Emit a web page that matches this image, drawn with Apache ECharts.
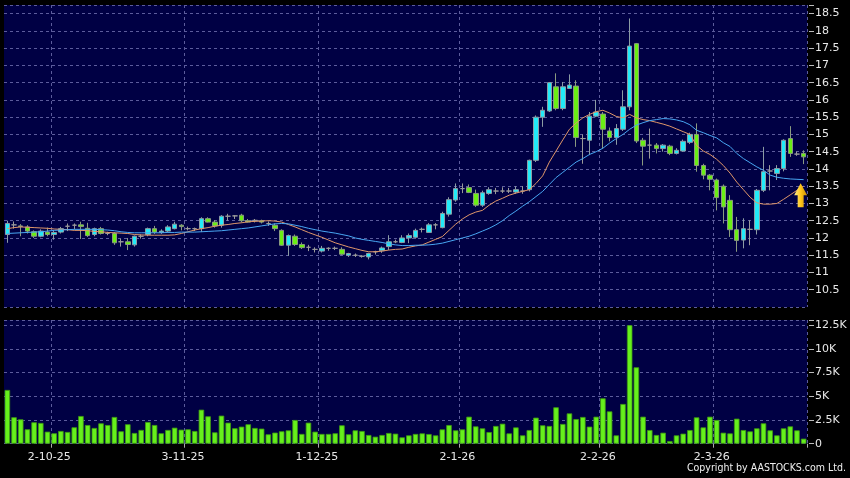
<!DOCTYPE html>
<html><head><meta charset="utf-8">
<script src="https://cdn.jsdelivr.net/npm/echarts@6/dist/echarts.min.js"></script>
<style>html,body{margin:0;padding:0;background:#000}#c{width:850px;height:478px}</style>
</head><body><div id="c"></div>
<script>
const dates = [
 '22-9-25','23-9-25','24-9-25','25-9-25','26-9-25','29-9-25','30-9-25',
 '2-10-25','3-10-25','6-10-25','8-10-25','9-10-25','10-10-25','13-10-25','14-10-25','15-10-25','16-10-25','17-10-25','20-10-25','21-10-25','22-10-25','23-10-25','24-10-25','27-10-25','28-10-25','30-10-25','31-10-25',
 '3-11-25','4-11-25','5-11-25','6-11-25','7-11-25','10-11-25','11-11-25','12-11-25','13-11-25','14-11-25','17-11-25','18-11-25','19-11-25','20-11-25','21-11-25','24-11-25','25-11-25','26-11-25','27-11-25','28-11-25',
 '1-12-25','2-12-25','3-12-25','4-12-25','5-12-25','8-12-25','9-12-25','10-12-25','11-12-25','12-12-25','15-12-25','16-12-25','17-12-25','18-12-25','19-12-25','22-12-25','23-12-25','24-12-25','29-12-25','30-12-25','31-12-25',
 '2-1-26','5-1-26','6-1-26','7-1-26','8-1-26','9-1-26','12-1-26','13-1-26','14-1-26','15-1-26','16-1-26','19-1-26','20-1-26','21-1-26','22-1-26','23-1-26','26-1-26','27-1-26','28-1-26','29-1-26','30-1-26',
 '2-2-26','3-2-26','4-2-26','5-2-26','6-2-26','9-2-26','10-2-26','11-2-26','12-2-26','13-2-26','16-2-26','20-2-26','23-2-26','24-2-26','25-2-26','26-2-26','27-2-26',
 '2-3-26','3-3-26','4-3-26','5-3-26','6-3-26','9-3-26','10-3-26','11-3-26','12-3-26','13-3-26','16-3-26','17-3-26','18-3-26','19-3-26'
];
const opens = [
 12.10,12.38,12.35,12.32,12.18,12.05,12.17,12.10,12.17,12.34,
 12.37,12.38,12.28,12.10,12.27,12.13,12.13,11.89,11.89,11.80,
 12.05,12.10,12.27,12.16,12.20,12.27,12.37,12.27,12.27,12.27,
 12.56,12.46,12.37,12.63,12.64,12.66,12.50,12.51,12.50,12.42,
 12.37,12.22,11.79,12.05,11.81,11.73,11.67,11.62,11.70,11.70,
 11.67,11.50,11.50,11.47,11.45,11.60,11.63,11.75,11.89,11.87,
 12.00,12.02,12.25,12.16,12.38,12.30,12.69,13.10,13.43,13.46,
 13.29,12.95,13.29,13.36,13.36,13.36,13.33,13.36,13.40,14.25,
 15.50,15.68,16.38,15.75,16.33,16.40,14.88,14.83,15.53,15.59,
 15.10,14.91,15.15,15.80,17.63,14.83,14.69,14.69,14.59,14.66,
 14.45,14.52,14.77,15.00,14.10,13.82,13.68,13.50,13.09,12.24,
 11.94,12.25,12.24,13.38,13.94,13.87,14.01,14.88,14.43,14.45
];
const closes = [
 12.42,12.38,12.33,12.20,12.05,12.20,12.10,12.16,12.27,12.34,
 12.37,12.33,12.07,12.27,12.13,12.13,11.86,11.89,11.81,12.05,
 12.05,12.27,12.17,12.20,12.32,12.40,12.33,12.27,12.27,12.56,
 12.46,12.35,12.63,12.63,12.64,12.50,12.46,12.51,12.46,12.42,
 12.27,11.79,12.07,11.81,11.72,11.73,11.67,11.70,11.70,11.70,
 11.53,11.55,11.50,11.47,11.55,11.60,11.71,11.89,11.89,12.00,
 12.07,12.22,12.25,12.38,12.38,12.71,13.11,13.43,13.43,13.32,
 12.95,13.31,13.40,13.36,13.36,13.36,13.40,13.36,14.25,15.50,
 15.70,16.50,15.75,16.38,16.43,14.91,14.88,15.53,15.65,15.15,
 14.91,15.17,15.80,17.56,14.81,14.66,14.69,14.59,14.69,14.45,
 14.54,14.80,15.00,14.10,13.82,13.70,13.17,12.90,12.24,11.93,
 12.27,12.25,13.38,13.92,13.94,14.01,14.83,14.45,14.43,14.35
];
const lows = [
 11.86,12.27,12.05,12.13,12.00,12.02,12.05,11.95,12.13,12.20,
 12.25,11.97,12.03,12.05,12.10,12.08,11.80,11.75,11.65,11.75,
 11.98,12.05,12.12,12.12,12.17,12.25,12.22,12.22,12.20,12.17,
 12.45,12.30,12.30,12.50,12.55,12.45,12.45,12.45,12.42,12.35,
 12.20,11.77,11.48,11.77,11.68,11.62,11.58,11.58,11.63,11.65,
 11.50,11.45,11.45,11.43,11.38,11.52,11.57,11.65,11.85,11.85,
 11.85,11.98,12.16,12.16,12.25,12.28,12.62,13.05,13.30,13.30,
 12.90,12.90,13.25,13.27,13.30,13.30,13.28,13.28,13.35,14.20,
 15.22,15.65,15.70,15.70,16.33,14.64,14.15,14.40,15.50,14.59,
 14.80,14.70,15.10,15.70,14.75,14.10,14.30,14.45,14.50,14.40,
 14.42,14.50,14.72,13.92,13.70,13.38,12.80,12.42,12.03,11.60,
 11.70,11.79,12.10,13.33,13.38,13.68,13.93,14.35,14.38,14.14
];
const highs = [
 12.50,12.48,12.40,12.37,12.22,12.25,12.30,12.22,12.32,12.42,
 12.42,12.47,12.44,12.30,12.32,12.18,12.17,11.98,12.00,12.07,
 12.10,12.30,12.35,12.25,12.37,12.47,12.40,12.33,12.30,12.60,
 12.60,12.52,12.66,12.70,12.66,12.70,12.55,12.55,12.53,12.48,
 12.42,12.25,12.10,12.10,11.87,11.80,11.73,11.77,11.73,11.75,
 11.73,11.57,11.55,11.50,11.57,11.63,11.75,12.08,11.95,12.08,
 12.13,12.27,12.30,12.43,12.43,12.76,13.18,13.58,13.58,13.55,
 13.40,13.37,13.47,13.45,13.47,13.45,13.50,13.50,14.27,15.55,
 15.80,16.52,16.77,16.52,16.74,16.57,15.00,15.65,16.00,15.65,
 15.20,15.30,16.28,18.36,17.65,14.90,15.17,14.75,14.72,14.70,
 14.60,14.85,15.05,15.32,14.15,13.85,13.72,13.55,13.24,12.61,
 12.57,12.51,13.42,14.64,14.11,14.11,14.86,15.24,14.50,14.54
];
const ma10 = [
 12.27,12.30,12.32,12.31,12.30,12.29,12.28,12.26,12.25,12.24,
 12.22,12.22,12.21,12.19,12.18,12.16,12.15,12.14,12.13,12.10,
 12.09,12.08,12.08,12.08,12.08,12.09,12.13,12.18,12.23,12.27,
 12.30,12.34,12.37,12.39,12.42,12.44,12.47,12.48,12.49,12.50,
 12.49,12.46,12.39,12.32,12.24,12.16,12.09,12.02,11.94,11.86,
 11.80,11.74,11.69,11.64,11.60,11.60,11.62,11.65,11.67,11.68,
 11.73,11.77,11.80,11.88,11.96,12.04,12.22,12.40,12.55,12.67,
 12.75,12.80,12.95,13.07,13.15,13.24,13.30,13.35,13.40,13.58,
 13.80,14.20,14.52,14.84,15.15,15.33,15.48,15.58,15.66,15.70,
 15.62,15.52,15.48,15.58,15.48,15.43,15.40,15.35,15.30,15.24,
 15.16,15.08,15.00,14.68,14.52,14.42,14.28,14.10,13.88,13.62,
 13.40,13.18,13.02,12.98,12.98,13.00,13.12,13.25,13.38,13.50
];
const ma20 = [
 12.13,12.14,12.15,12.16,12.17,12.18,12.20,12.22,12.23,12.24,
 12.25,12.25,12.25,12.25,12.24,12.23,12.21,12.18,12.16,12.15,
 12.15,12.15,12.15,12.15,12.16,12.16,12.17,12.17,12.17,12.18,
 12.19,12.20,12.21,12.23,12.25,12.27,12.29,12.32,12.35,12.38,
 12.41,12.42,12.41,12.37,12.33,12.28,12.24,12.20,12.17,12.14,
 12.10,12.06,12.00,11.96,11.93,11.90,11.87,11.83,11.80,11.78,
 11.78,11.79,11.79,11.80,11.82,11.85,11.90,11.95,12.00,12.05,
 12.12,12.20,12.28,12.38,12.50,12.65,12.78,12.92,13.05,13.20,
 13.35,13.55,13.75,13.90,14.05,14.20,14.30,14.42,14.50,14.60,
 14.75,14.88,15.00,15.15,15.27,15.34,15.40,15.43,15.46,15.45,
 15.42,15.37,15.28,15.12,15.05,14.97,14.90,14.76,14.65,14.45,
 14.30,14.18,14.06,13.96,13.82,13.76,13.73,13.71,13.70,13.69
];
const volumesK = [
 5.67,2.79,2.57,1.52,2.26,2.19,1.27,1.10,1.34,1.24,
 1.73,2.92,1.97,1.66,2.15,1.97,2.82,1.31,2.05,1.13,
 1.45,2.29,1.97,1.10,1.45,1.69,1.48,1.52,1.34,3.59,
 2.89,1.20,2.96,2.22,1.63,1.80,2.05,1.66,1.59,0.99,
 1.17,1.31,1.41,2.50,1.03,2.22,1.27,1.03,1.03,1.10,
 1.94,0.99,1.41,1.34,0.92,0.74,0.92,1.13,1.06,0.67,
 0.88,1.03,1.09,1.02,0.88,1.51,1.97,1.41,1.51,2.85,
 1.83,1.62,1.23,1.87,2.11,1.09,1.72,0.88,1.44,2.75,
 1.94,1.87,3.84,2.08,3.20,2.60,2.82,1.80,2.85,4.79,
 3.41,0.88,4.19,12.50,8.06,2.85,1.44,0.92,1.16,0.28,
 0.88,1.06,1.44,2.78,1.72,2.85,2.50,1.16,1.09,2.64,
 1.44,1.30,1.62,2.15,1.41,0.88,1.62,1.83,1.41,0.53
];
const labelDates = ['2-10-25','3-11-25','1-12-25','2-1-26','2-2-26','2-3-26'];
const arrowMark = { date: '19-3-26', price: 13.24 };
const copyrightText = 'Copyright by AASTOCKS.com Ltd.';

const labelSet = new Set(labelDates);
const showAt = (idx, val) => labelSet.has(val !== undefined ? val : dates[idx]);
const gridDash = { color: '#5c5c9c', width: 1, type: [3, 3] };
const panelBg = '#000044';
const txt = '#e8e8e8';
const fontFam = 'DejaVu Sans';

const chart = echarts.init(document.getElementById('c'), null, { renderer: 'canvas' });
chart.setOption({
  animation: false,
  backgroundColor: '#000',
  grid: [
    { left: 4, right: 43, top: 5, height: 302, show: true, backgroundColor: panelBg, borderWidth: 0 },
    { left: 4, right: 43, top: 320, height: 123.7, show: true, backgroundColor: panelBg, borderWidth: 0 }
  ],
  xAxis: [
    { type: 'category', gridIndex: 0, data: dates, boundaryGap: true,
      axisLine: { show: false }, axisTick: { show: false }, axisLabel: { show: false },
      splitLine: { show: true, interval: showAt, lineStyle: gridDash } },
    { type: 'category', gridIndex: 1, data: dates, boundaryGap: true,
      axisLine: { show: false },
      axisTick: { show: true, interval: showAt, length: 4, lineStyle: { color: '#aaa' } },
      axisLabel: { interval: showAt, color: txt, fontSize: 11, fontFamily: fontFam, margin: 8, padding: [0, 10, 0, 0] },
      splitLine: { show: true, interval: showAt, lineStyle: gridDash } }
  ],
  yAxis: [
    { type: 'value', gridIndex: 0, position: 'right', min: 10, max: 18.75, interval: 0.5, offset: 2,
      axisLine: { show: false },
      axisTick: { show: true, length: 5, lineStyle: { color: '#bbb' } },
      axisLabel: { color: txt, fontSize: 11, fontFamily: fontFam, margin: 6, showMinLabel: false,
        formatter: v => (Math.abs(v * 2 - Math.round(v * 2)) < 1e-6 ? String(+v.toFixed(1)) : '') },
      splitLine: { show: true, lineStyle: gridDash } },
    { type: 'value', gridIndex: 1, position: 'right', min: 0, max: 13.05, interval: 2.5, offset: 2,
      axisLine: { show: false },
      axisTick: { show: true, length: 5, lineStyle: { color: '#bbb' } },
      axisLabel: { color: txt, fontSize: 11, fontFamily: fontFam, margin: 6,
        formatter: v => (Math.abs(v / 2.5 - Math.round(v / 2.5)) < 1e-6 ? (v === 0 ? '0' : (+v.toFixed(1)) + 'K') : '') },
      splitLine: { show: true, lineStyle: gridDash } }
  ],
  graphic: [
    { type: 'text', right: 4, top: 463, style: { text: copyrightText, fill: '#f0f0f0', font: '10.5px "DejaVu Sans Condensed", "DejaVu Sans"' } }
  ],
  series: [
    { type: 'candlestick', xAxisIndex: 0, yAxisIndex: 0, barWidth: 5,
      data: dates.map((d, i) => [opens[i], closes[i], lows[i], highs[i]]),
      itemStyle: { color: '#22eaf8', color0: '#6aee14', borderColor: '#8c9ca4', borderColor0: '#8a9a80', borderColorDoji: '#9a9a9a', borderWidth: 1 },
      markPoint: {
        symbol: 'path://M6.5,0 L13,12 L9.5,12 L9.5,24 L3.5,24 L3.5,12 L0,12 Z',
        symbolSize: [13, 24], symbolOffset: [-3, 0], silent: true,
        label: { show: false },
        itemStyle: { color: new echarts.graphic.LinearGradient(0, 0, 1, 0, [{ offset: 0, color: '#ffe98a' }, { offset: 0.5, color: '#ffc61a' }, { offset: 1, color: '#c98a00' }]) },
        data: [{ coord: [arrowMark.date, arrowMark.price] }]
      } },
    { type: 'line', xAxisIndex: 0, yAxisIndex: 0, data: ma10, symbol: 'none', smooth: false,
      lineStyle: { color: '#e0976a', width: 1 }, z: 3 },
    { type: 'line', xAxisIndex: 0, yAxisIndex: 0, data: ma20, symbol: 'none', smooth: false,
      lineStyle: { color: '#48a6f2', width: 1 }, z: 3 },
    { type: 'bar', xAxisIndex: 1, yAxisIndex: 1, data: volumesK, barWidth: 5.5,
      itemStyle: { color: '#66f01c', borderColor: '#3f9a12', borderWidth: 0.8 } }
  ]
});
</script>
</body></html>
